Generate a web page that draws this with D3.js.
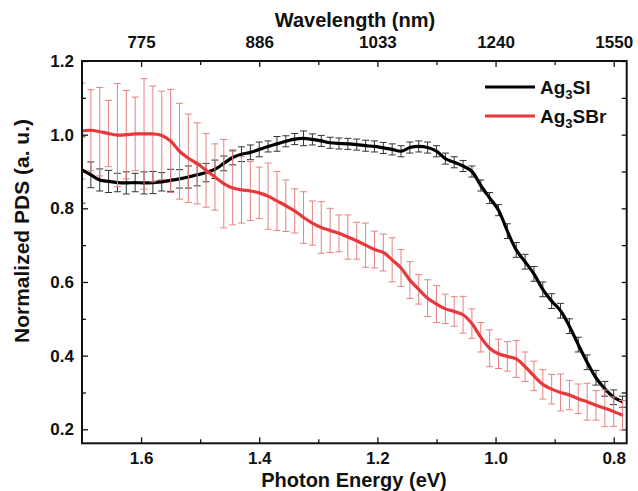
<!DOCTYPE html>
<html><head><meta charset="utf-8">
<script src="https://cdn.jsdelivr.net/npm/d3@7"></script>
<style>body{margin:0;background:#fff}text{font-family:"Liberation Sans",Arial,sans-serif;font-weight:bold;fill:#111}</style>
</head><body><svg id="c" width="638" height="491"></svg>
<script>
const energy = [1.700,1.685,1.670,1.655,1.640,1.625,1.610,1.595,1.580,1.565,1.550,1.535,1.520,1.505,1.490,1.475,1.460,1.445,1.430,1.415,1.400,1.385,1.370,1.355,1.340,1.325,1.310,1.295,1.280,1.265,1.250,1.235,1.220,1.205,1.190,1.175,1.160,1.145,1.130,1.115,1.100,1.085,1.070,1.055,1.040,1.025,1.010,0.995,0.980,0.965,0.950,0.935,0.920,0.905,0.890,0.875,0.860,0.845,0.830,0.815,0.800,0.785];
const ag3si = [0.904,0.891,0.877,0.873,0.870,0.869,0.870,0.869,0.870,0.872,0.876,0.880,0.885,0.891,0.897,0.906,0.922,0.938,0.947,0.952,0.960,0.968,0.975,0.982,0.988,0.990,0.987,0.983,0.978,0.976,0.975,0.973,0.970,0.968,0.964,0.960,0.955,0.965,0.968,0.965,0.955,0.935,0.925,0.915,0.900,0.862,0.828,0.795,0.738,0.687,0.655,0.622,0.580,0.548,0.522,0.480,0.430,0.382,0.340,0.310,0.287,0.275];
const ag3siErr = [0.09,0.035,0.03,0.03,0.025,0.03,0.025,0.03,0.03,0.025,0.03,0.025,0.03,0.03,0.025,0.025,0.02,0.02,0.02,0.02,0.02,0.015,0.02,0.015,0.015,0.02,0.015,0.015,0.015,0.015,0.015,0.015,0.015,0.015,0.015,0.015,0.015,0.015,0.015,0.015,0.015,0.015,0.015,0.015,0.015,0.015,0.015,0.015,0.02,0.02,0.02,0.02,0.02,0.02,0.02,0.02,0.02,0.02,0.02,0.02,0.02,0.015];
const ag3sbr = [1.010,1.012,1.008,1.003,0.999,1.000,1.002,1.002,1.002,0.998,0.983,0.955,0.936,0.922,0.903,0.885,0.867,0.855,0.850,0.847,0.842,0.833,0.820,0.807,0.793,0.775,0.760,0.748,0.740,0.732,0.722,0.712,0.700,0.688,0.680,0.660,0.638,0.605,0.580,0.556,0.540,0.527,0.520,0.511,0.487,0.450,0.420,0.405,0.398,0.391,0.370,0.345,0.322,0.309,0.300,0.293,0.283,0.275,0.265,0.257,0.248,0.238];
const ag3sbrErr = [0.13,0.11,0.12,0.09,0.14,0.12,0.10,0.15,0.13,0.12,0.14,0.13,0.12,0.11,0.10,0.09,0.12,0.10,0.09,0.08,0.07,0.09,0.08,0.07,0.06,0.07,0.06,0.07,0.06,0.05,0.06,0.05,0.06,0.05,0.05,0.06,0.05,0.05,0.04,0.05,0.05,0.04,0.04,0.05,0.04,0.04,0.05,0.04,0.04,0.05,0.04,0.04,0.04,0.04,0.05,0.04,0.04,0.05,0.04,0.05,0.04,0.04];
const xMajor = [1.6,1.4,1.2,1.0,0.8];
const xMinor = [1.5,1.3,1.1,0.9];
const topLabels = ["775","886","1033","1240","1550"];
const yMajor = [0.2,0.4,0.6,0.8,1.0,1.2];
const yMinor = [0.3,0.5,0.7,0.9,1.1];

const svg = d3.select("#c");
const L=82,R=626.7,T=61,B=443.3;
const x = d3.scaleLinear().domain([1.70,0.778]).range([L,R]);
const y = d3.scaleLinear().domain([0.162,1.2]).range([B,T]);

function ax(g, gen){ g.call(gen); g.select(".domain").remove(); g.selectAll("line").attr("stroke","#111").attr("stroke-width",1.3); }
// bottom
ax(svg.append("g").attr("transform",`translate(0,${B})`), d3.axisBottom(x).tickValues(xMajor).tickSize(-6).tickPadding(9).tickFormat(d3.format(".1f")));
ax(svg.append("g").attr("transform",`translate(0,${B})`), d3.axisBottom(x).tickValues(xMinor).tickSize(-4).tickFormat(""));
// top
ax(svg.append("g").attr("transform",`translate(0,${T})`), d3.axisTop(x).tickValues(xMajor).tickSize(-6).tickPadding(13).tickFormat((d,i)=>topLabels[i]));
ax(svg.append("g").attr("transform",`translate(0,${T})`), d3.axisTop(x).tickValues(xMinor).tickSize(-4).tickFormat(""));
// left
ax(svg.append("g").attr("transform",`translate(${L},0)`), d3.axisLeft(y).tickValues(yMajor).tickSize(-6).tickPadding(8).tickFormat(d3.format(".1f")));
ax(svg.append("g").attr("transform",`translate(${L},0)`), d3.axisLeft(y).tickValues(yMinor).tickSize(-4).tickFormat(""));
// right
ax(svg.append("g").attr("transform",`translate(${R},0)`), d3.axisRight(y).tickValues(yMajor.concat(yMinor)).tickSize(-5).tickFormat(""));
svg.selectAll(".tick text").style("font-size","17px").style("font-family","Liberation Sans, Arial, sans-serif").style("font-weight","bold").attr("fill","#111");

const clip = svg.append("clipPath").attr("id","cp").append("rect").attr("x",L).attr("y",T).attr("width",R-L).attr("height",B-T);
const plot = svg.append("g").attr("clip-path","url(#cp)");

function series(vals, errs, lineColor, barColor){
  const pts = energy.map((e,i)=>({e, v:vals[i], s:errs[i]}));
  const g = plot.append("g");
  const cw = 3.5;
  pts.forEach(p=>{
    const xx=x(p.e), y1=y(p.v+p.s), y2=y(p.v-p.s);
    g.append("line").attr("x1",xx).attr("x2",xx).attr("y1",y1).attr("y2",y2).attr("stroke",barColor).attr("stroke-width",1);
    g.append("line").attr("x1",xx-cw).attr("x2",xx+cw).attr("y1",y1).attr("y2",y1).attr("stroke",barColor).attr("stroke-width",1);
    g.append("line").attr("x1",xx-cw).attr("x2",xx+cw).attr("y1",y2).attr("y2",y2).attr("stroke",barColor).attr("stroke-width",1);
  });
  g.append("path").datum(pts).attr("fill","none").attr("stroke",lineColor).attr("stroke-width",3.2)
    .attr("stroke-linejoin","round")
    .attr("d", d3.line().x(d=>x(d.e)).y(d=>y(d.v)).curve(d3.curveCatmullRom));
}
series(ag3si, ag3siErr, "#000", "#333");
series(ag3sbr, ag3sbrErr, "#e8383c", "#e88080");

svg.append("rect").attr("x",L).attr("y",T).attr("width",R-L).attr("height",B-T).attr("fill","none").attr("stroke","#111").attr("stroke-width",2);

// titles
svg.append("text").attr("x",354).attr("y",487).attr("text-anchor","middle").style("font-size","20px").text("Photon Energy (eV)");
svg.append("text").attr("x",355).attr("y",27).attr("text-anchor","middle").style("font-size","20px").text("Wavelength (nm)");
svg.append("text").attr("transform","translate(29,231) rotate(-90)").attr("text-anchor","middle").style("font-size","21px").text("Normalized PDS (a. u.)");

// legend
const leg = [{n:"Ag",s:"3",t:"SI",c:"#000"},{n:"Ag",s:"3",t:"SBr",c:"#e8383c"}];
leg.forEach((d,i)=>{
  const yy = 87 + i*29;
  svg.append("line").attr("x1",485).attr("x2",535).attr("y1",yy).attr("y2",yy).attr("stroke",d.c).attr("stroke-width",3);
  const t = svg.append("text").attr("x",540).attr("y",yy+7).style("font-size","19px");
  t.append("tspan").text(d.n);
  t.append("tspan").attr("dy",5).style("font-size","13px").text(d.s);
  t.append("tspan").attr("dy",-5).text(d.t);
});
</script></body></html>
